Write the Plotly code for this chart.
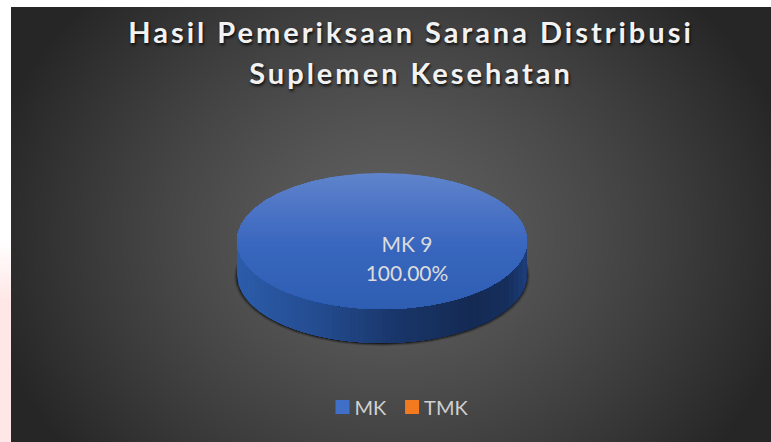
import base64, struct, zlib
import numpy as np
import plotly.graph_objects as go

# ---- data ----
categories = ["MK", "TMK"]
values = [9, 0]
legend_colors = ["#3f6fc6", "#f47a20"]
title_lines = ["Hasil Pemeriksaan Sarana Distribusi", "Suplemen Kesehatan"]

W, H = 771, 442
PX0, PY0 = 11, 7          # top-left of the dark panel


def png_uri(rgb):
    h, w, _ = rgb.shape
    raw = b"".join(b"\x00" + rgb[i].tobytes() for i in range(h))
    def chunk(t, d):
        return struct.pack(">I", len(d)) + t + d + struct.pack(">I", zlib.crc32(t + d) & 0xffffffff)
    data = (b"\x89PNG\r\n\x1a\n" + chunk(b"IHDR", struct.pack(">IIBBBBB", w, h, 8, 2, 0, 0, 0))
            + chunk(b"IDAT", zlib.compress(raw)) + chunk(b"IEND", b""))
    return "data:image/png;base64," + base64.b64encode(data).decode()


# backdrop: radial dark panel on a white/pink page
yy, xx = np.mgrid[0:H, 0:W]
r = np.sqrt(((xx - 390) / 400.0) ** 2 + ((yy - 235) / 340.0) ** 2).clip(0, 1.25)
shade = (96 - 56 * r ** 1.3).clip(38, 110)
bg = np.stack([shade, shade, shade], axis=-1)
page = np.ones((H, W, 3)) * 255
pink = ((yy - 240) / 60.0).clip(0, 1)
page[..., 1] -= 24 * pink
page[..., 2] -= 24 * pink
mask = (xx >= PX0) & (yy >= PY0)
bg = np.where(mask[..., None], bg, page).round().astype(np.uint8)

fig = go.Figure()

# pie geometry
CX, CY, RX, RY, DEPTH = 382, 241, 145, 68, 34


def lerp_color(stops, t):
    ts = [s[0] for s in stops]
    c = [np.interp(t, ts, [s[1][k] for s in stops]) for k in range(3)]
    return "rgb(%d,%d,%d)" % tuple(round(v) for v in c)


def add_poly(x, y, color, opacity=1.0):
    fig.add_trace(go.Scatter(
        x=x, y=y, mode="lines", fill="toself", fillcolor=color, opacity=opacity,
        line=dict(color="rgba(0,0,0,0)", width=0),
        hoverinfo="skip", showlegend=False))


def clip_below(px, py, y0):
    """Part of a closed polygon that lies at y >= y0 (screen downwards)."""
    ox, oy = [], []
    n = len(px)
    for i in range(n):
        x1, y1, x2, y2 = px[i], py[i], px[(i + 1) % n], py[(i + 1) % n]
        if y1 >= y0:
            ox.append(x1)
            oy.append(y1)
        if (y1 >= y0) != (y2 >= y0):
            f = (y0 - y1) / (y2 - y1)
            ox.append(x1 + f * (x2 - x1))
            oy.append(y0)
    return np.array(ox), np.array(oy)


# soft shadow under the pie
th = np.linspace(0, 2 * np.pi, 361)
for grow, op in [(4, 0.10), (3, 0.18), (2, 0.30), (1, 0.45)]:
    add_poly(CX + (RX + grow - 1) * np.cos(th), CY + DEPTH + grow * 0.4 + (RY + grow * 0.4) * np.sin(th),
             "#000000", op)

# side wall, painted left to right so that each band overlaps the rest
wall_stops = [(0.0, (44, 92, 170)), (0.28, (36, 76, 144)), (0.55, (25, 54, 106)),
              (0.80, (20, 42, 84)), (0.93, (22, 46, 92)), (1.0, (30, 62, 124))]
total = sum(values)
shares = [v / total for v in values]
N = 64
edges = np.linspace(CX - RX, CX + RX, N + 1)
for i in range(N):
    xs = np.linspace(edges[i], CX + RX, 200)
    top = CY + RY * np.sqrt((1 - ((xs - CX) / RX) ** 2).clip(0, 1))
    add_poly(np.r_[xs, xs[::-1]], np.r_[top, top[::-1] + DEPTH], lerp_color(wall_stops, (i + 0.5) / N))

# top face, one wedge per category, painted top to bottom
top_stops = [(0.0, (96, 132, 204)), (0.30, (74, 114, 196)), (0.55, (56, 102, 190)), (1.0, (46, 94, 178))]
start = 0.0
for share in shares:
    if share > 0:
        th = np.linspace(start, start + 2 * np.pi * share, 361)
        px = CX + RX * np.cos(th)
        py = CY + RY * np.sin(th)
        if share < 1:
            px, py = np.r_[CX, px], np.r_[CY, py]
        bands = np.linspace(CY - RY, CY + RY, 65)
        for i in range(64):
            bx, by = clip_below(px, py, bands[i])
            bx, by = np.r_[bx, bx[:1]], np.r_[by, by[:1]]
            add_poly(bx, by, lerp_color(top_stops, (i + 0.5) / 64))
    start += 2 * np.pi * share

# data label of the largest slice
idx = int(np.argmax(values))
fig.add_trace(go.Scatter(
    x=[CX + 25, CX + 25], y=[CY + 6, CY + 35], mode="text",
    text=[f"{categories[idx]} {values[idx]}", f"{shares[idx] * 100:.2f}%"],
    textposition="middle center",
    textfont=dict(family="Lato", size=21, color="#dcdcdc"),
    hoverinfo="skip", showlegend=False))

# legend entries
for name, col in zip(categories, legend_colors):
    fig.add_trace(go.Scatter(
        x=[None], y=[None], mode="markers", name=name,
        marker=dict(symbol="square", size=14, color=col), hoverinfo="skip"))

fig.update_layout(
    width=W, height=H, margin=dict(l=0, r=0, t=0, b=0),
    paper_bgcolor="#ffffff", plot_bgcolor="rgba(0,0,0,0)",
    xaxis=dict(range=[0, W], visible=False, fixedrange=True),
    yaxis=dict(range=[H, 0], visible=False, fixedrange=True),
    images=[dict(source=png_uri(bg), xref="paper", yref="paper", x=0, y=1, sizex=1, sizey=1,
                 xanchor="left", yanchor="top", sizing="stretch", layer="below")],
    title=dict(
        text="<br>".join(title_lines), x=411 / W, xanchor="center", y=1 - 43 / H, yanchor="top",
        font=dict(family="Lato", size=29, color="#f2f2f2", weight="bold",
                  shadow="1px 2px 3px rgba(0,0,0,0.8)")),
    legend=dict(orientation="h", x=406 / W, xanchor="center", y=1 - 407 / H, yanchor="middle",
                bgcolor="rgba(0,0,0,0)", font=dict(family="Lato", size=20, color="#d0d0d0"),
                itemwidth=30, itemclick=False, itemdoubleclick=False),
)

post = """
document.body.style.margin='0';
document.querySelectorAll('.gtitle').forEach(function(e){
  e.style.letterSpacing='3px';
  var ls=e.querySelectorAll('.line');
  if(ls.length>1){ls[1].setAttribute('dy','1.41em');}
});
document.querySelectorAll('.legend .legendtext').forEach(function(t){
  t.setAttribute('x', parseFloat(t.getAttribute('x'))-8);
});
var items=document.querySelectorAll('.legend .traces');
if(items.length>1){
  var m=/translate\\(([-\\d.]+),\\s*([-\\d.]+)\\)/.exec(items[1].getAttribute('transform'));
  if(m){items[1].setAttribute('transform','translate('+(parseFloat(m[1])-8)+','+m[2]+')');}
}
"""
fig.write_html("out.html", config=dict(displayModeBar=False, staticPlot=True), post_script=post)
